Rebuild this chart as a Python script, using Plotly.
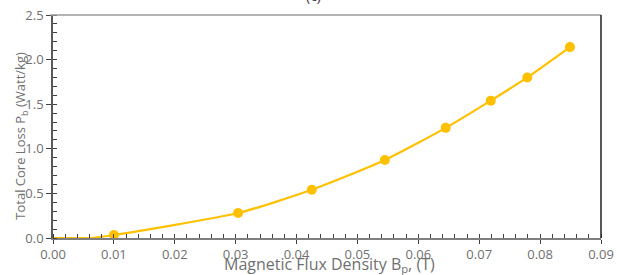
import plotly.graph_objects as go

# Data
flux_density = [0.0100, 0.0304, 0.0425, 0.0545, 0.0645, 0.0719, 0.0779, 0.0849]
core_loss = [0.034, 0.28, 0.54, 0.875, 1.235, 1.54, 1.80, 2.14]
# curve start (line only, no markers)
curve_x = [0.0, 0.006] + flux_density
curve_y = [0.0, 0.0] + core_loss

x_ticks = [0.00, 0.01, 0.02, 0.03, 0.04, 0.05, 0.06, 0.07, 0.08, 0.09]
y_ticks = [0.0, 0.5, 1.0, 1.5, 2.0, 2.5]

gold = "#FFC000"
gray_text = "#707070"
font_family = "Open Sans, Liberation Sans, sans-serif"

fig = go.Figure()
fig.add_trace(go.Scatter(x=curve_x, y=curve_y, mode="lines",
                         line=dict(color=gold, width=2.2, shape="spline", smoothing=0.6),
                         hoverinfo="skip", showlegend=False))
fig.add_trace(go.Scatter(x=flux_density, y=core_loss, mode="markers",
                         marker=dict(color=gold, size=10), showlegend=False))

fig.update_layout(
    width=617, height=275,
    margin=dict(l=53, r=16, t=15, b=37),
    paper_bgcolor="white", plot_bgcolor="white",
    font=dict(family=font_family, color=gray_text, size=12),
    xaxis=dict(range=[0, 0.09], tickvals=x_ticks, ticktext=[f"{v:.2f}" for v in x_ticks],
               showgrid=False, zeroline=False, showline=True, linecolor="#7f7f7f", linewidth=1.5,
               ticks="outside", ticklen=4, tickcolor="#404040", tickwidth=1,
               minor=dict(dtick=0.002, ticks="inside", ticklen=4, tickcolor="#404040"),
               tickfont=dict(size=13, color=gray_text), fixedrange=True, automargin=False),
    yaxis=dict(range=[0, 2.5], tickvals=y_ticks, ticktext=[f"{v:.1f}" for v in y_ticks],
               showgrid=False, zeroline=False, showline=True, linecolor="#595959", linewidth=1.5,
               ticks="outside", ticklen=5, tickcolor="#404040", tickwidth=1,
               minor=dict(dtick=0.1, ticks="inside", ticklen=4, tickcolor="#404040"),
               tickfont=dict(size=13, color=gray_text), fixedrange=True, automargin=False),
    shapes=[
        dict(type="line", xref="paper", yref="paper", x0=-0.005, x1=1, y0=1, y1=1,
             line=dict(color="#9a9a9a", width=1.5)),
        dict(type="line", xref="paper", yref="paper", x0=1, x1=1, y0=0, y1=1,
             line=dict(color="#202020", width=1.5)),
    ],
    annotations=[
        dict(text="Magnetic Flux Density B<sub>p</sub>, (T)", xref="paper", yref="paper",
             x=0.505, y=-0.058, xanchor="center", yanchor="top", showarrow=False,
             font=dict(size=16, color=gray_text)),
        dict(text="Total Core Loss P<sub>b</sub> (Watt/kg)", xref="paper", yref="paper",
             x=-0.058, y=0.46, xanchor="center", yanchor="middle", textangle=-90, showarrow=False,
             font=dict(size=13, color=gray_text)),
        dict(text="(c)", xref="paper", yref="paper", x=0.475, y=1.036, xanchor="center",
             yanchor="bottom", showarrow=False, font=dict(size=14, color="#404040")),
    ],
)

fig.write_html("out.html", config={"displayModeBar": False},
               post_script="document.body.style.margin='0';")
